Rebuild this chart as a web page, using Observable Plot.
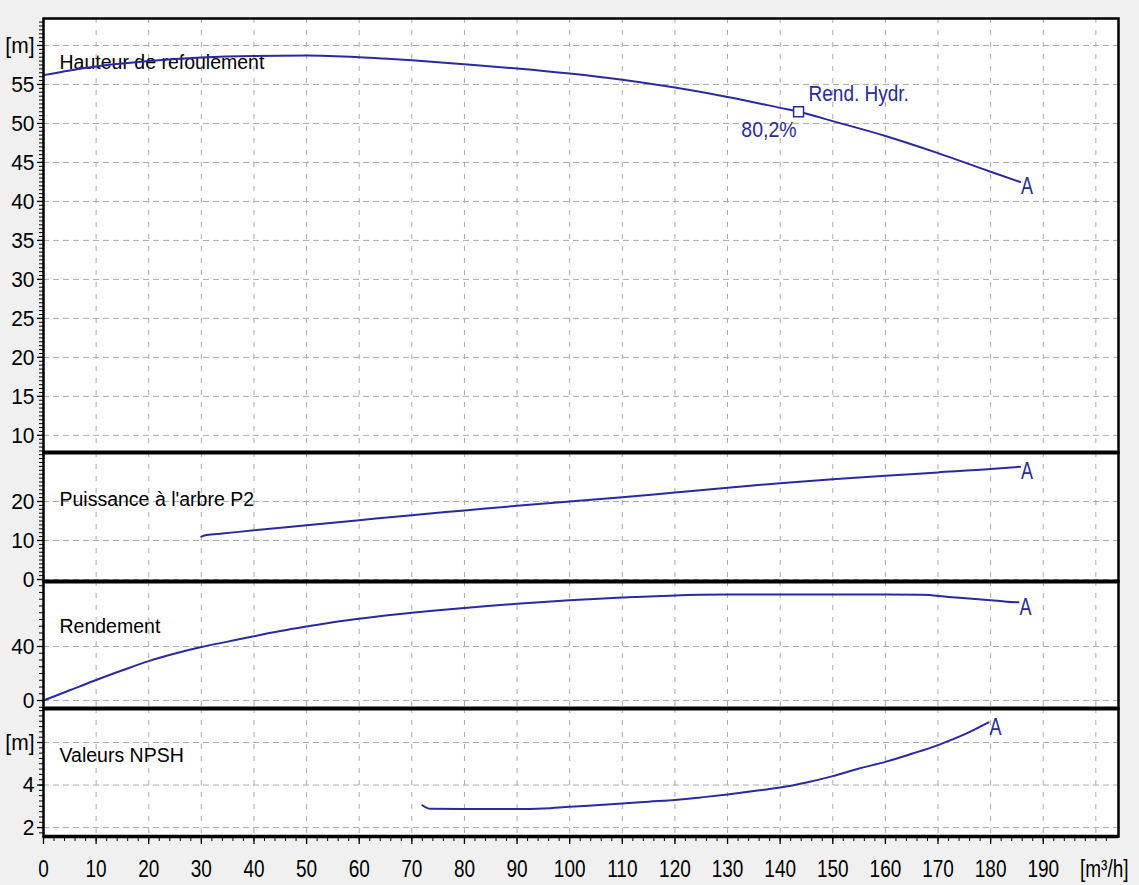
<!DOCTYPE html>
<html><head><meta charset="utf-8">
<script src="https://cdn.jsdelivr.net/npm/d3@7"></script>
<script src="https://cdn.jsdelivr.net/npm/@observablehq/plot@0.6"></script>
<style>
html,body{margin:0;padding:0;background:#f0f0f0;}
#chart{position:relative;width:1139px;height:885px;overflow:hidden;background:#f0f0f0;}
#chart svg{position:absolute;left:0;}
</style></head><body><div id="chart"></div>
<script>
// ---- data ----
const qTicks = [0,10,20,30,40,50,60,70,80,90,100,110,120,130,140,150,160,170,180,190];
const qGrid = [10,20,30,40,50,60,70,80,90,100,110,120,130,140,150,160,170,180,190,200];
const xUnit = "[m³/h]";

const headQ = [0,5,10,20,30,40,50,60,70,80,90,100,110,120,130,140,143.5,150,160,170,180,185.6];
const headH = [56.2,56.8,57.3,58.0,58.45,58.65,58.7,58.5,58.1,57.6,57.05,56.4,55.6,54.6,53.4,52.0,51.5,50.3,48.4,46.2,43.8,42.5];
const headTicks = [10,15,20,25,30,35,40,45,50,55,60];

const powerQ = [30,31,34,40,50,60,70,80,90,100,110,120,130,140,150,160,170,180,185.6];
const powerP = [11.0,11.4,11.8,12.6,13.9,15.2,16.5,17.7,18.9,20.0,21.1,22.3,23.5,24.7,25.7,26.6,27.45,28.3,28.9];
const powerTicks = [0,10,20];

const effQ = [0,5,10,15,20,25,30,35,40,45,50,55,60,65,70,75,80,85,90,95,100,110,120,130,140,150,160,167,172,177,180,183,185.3];
const effE = [0,7.6,15.2,22.4,29.2,34.8,39.6,43.6,47.6,51.4,54.8,58.0,60.6,62.9,64.9,66.8,68.5,70.1,71.6,73.0,74.2,76.2,77.8,78.4,78.5,78.5,78.5,78.3,76.6,75.2,74.3,73.2,72.7];
const effTicks = [0,40];

const npshQ = [72,73.5,80,90,95,100,105,110,115,120,125,130,135,140,145,150,155,160,165,170,175,179.6];
const npshH = [3.05,2.88,2.87,2.87,2.9,2.98,3.05,3.13,3.22,3.3,3.42,3.56,3.72,3.88,4.12,4.42,4.78,5.09,5.47,5.88,6.38,6.95];
const npshTicks = [2,4,6];

const dutyQ = [143.5];
const dutyH = [51.5];
const dutyLabel = "Rend. Hydr.";
const dutyEff = "80,2%";

const panelTitles = ["Hauteur de refoulement", "Puissance à l'arbre P2", "Rendement", "Valeurs NPSH"];
const endMark = "A";

// ---- style ----
const W = 1139, ML = 43, MR = 21;
const AREA_W = W - ML - MR;
const xDomain = [0, 204.3];
const FONT = "'Liberation Sans', Arial, Helvetica, sans-serif";
const BLUE = "#2a2a9e";
const GRID = "#ababab";

const zip = (a, b) => a.map((q, i) => ({q, v: b[i]}));

function stretch(svg, desc, sy) {
  svg.querySelectorAll(`g[aria-description="${desc}"] text`).forEach(t => {
    const tr = t.getAttribute("transform");
    if (tr) t.setAttribute("transform", `${tr} scale(1,${sy})`);
  });
}

function panel(cfg) {
  const {top, mt, areaH, mb, yDomain, yTicks, yMinor, yFmt, data, title, titleDy, extra = [], bottom = false} = cfg;
  const height = mt + areaH + mb;
  const last = data[data.length - 1];
  const marks = [
    Plot.frame({fill: "white"}),
    Plot.ruleY(yTicks, {y: d => d, stroke: GRID, strokeWidth: 1, strokeDasharray: "6,4"}),
    Plot.ruleX(qGrid, {x: d => d, stroke: GRID, strokeWidth: 1, strokeDasharray: "5,7"}),
    Plot.ruleY(yMinor, {y: d => d, insetRight: AREA_W - 4, dx: -4, stroke: "black", strokeWidth: 1}),
    Plot.ruleY(yTicks, {y: d => d, insetRight: AREA_W - 6, dx: -6, stroke: "black", strokeWidth: 1.3}),
    Plot.text(yTicks, {y: d => d, text: yFmt, frameAnchor: "left", dx: -9, textAnchor: "end", lineAnchor: "middle",
      fontSize: 21, fill: "black", ariaDescription: "ylab"}),
    Plot.text([title], {text: d => d, frameAnchor: "top-left", dx: 16, dy: titleDy, textAnchor: "start",
      lineAnchor: "bottom", fontSize: 19.5, fill: "black"}),
    Plot.line(data, {x: "q", y: "v", stroke: BLUE, strokeWidth: 2, curve: "monotone-x"}),
    Plot.text([last], {x: "q", y: "v", text: () => endMark, dx: 7, dy: 5, textAnchor: "middle", lineAnchor: "middle",
      fontSize: 18, fill: BLUE, ariaDescription: "amark"}),
    ...extra,
    Plot.frame({stroke: "black", strokeWidth: 2.5})
  ];
  if (top > 0) marks.push(Plot.ruleY([yDomain[1]], {stroke: "black", strokeWidth: 4}));
  if (bottom) {
    const minorX = d3.range(0, 204, 2);
    marks.push(
      Plot.ruleX(minorX, {x: d => d, insetTop: areaH - 5, dy: 5, stroke: "black", strokeWidth: 1}),
      Plot.ruleX(qTicks, {x: d => d, insetTop: areaH - 8, dy: 8, stroke: "black", strokeWidth: 1.3}),
      Plot.ruleY([yDomain[0]], {stroke: "black", strokeWidth: 3.5}),
      Plot.text(qTicks, {x: d => d, text: d => String(d), frameAnchor: "bottom", dy: 40, lineAnchor: "bottom",
        textAnchor: "middle", fontSize: 19, fill: "black", ariaDescription: "xlab"}),
      Plot.text([xUnit], {text: d => d, frameAnchor: "bottom-right", dx: 10, dy: 40, lineAnchor: "bottom",
        textAnchor: "end", fontSize: 19, fill: "black", ariaDescription: "xlab"})
    );
  }
  const svg = Plot.plot({
    width: W, height,
    marginLeft: ML, marginRight: MR, marginTop: mt, marginBottom: mb,
    x: {domain: xDomain, axis: null},
    y: {domain: yDomain, axis: null},
    style: {background: "transparent", overflow: "visible", fontFamily: FONT},
    marks
  });
  svg.style.top = top + "px";
  stretch(svg, "xlab", 1.3);
  stretch(svg, "ylab", 1.08);
  stretch(svg, "amark", 1.3);
  stretch(svg, "duty", 1.15);
  return svg;
}

const chart = document.getElementById("chart");
const mFmt = v => d => d === v ? "[m]" : String(d);

chart.appendChild(panel({
  top: 0, mt: 18, areaH: 434, mb: 3,
  yDomain: [7.8, 63.46], yTicks: headTicks, yMinor: d3.range(8, 63.5, 0.5), yFmt: mFmt(60),
  data: zip(headQ, headH), title: panelTitles[0], titleDy: 50,
  extra: [
    Plot.dot(zip(dutyQ, dutyH), {x: "q", y: "v", symbol: "square", r: 5.6, stroke: BLUE, fill: "white", strokeWidth: 1.5}),
    Plot.text(zip(dutyQ, dutyH), {x: "q", y: "v", text: () => dutyLabel, dx: 10, dy: -11, textAnchor: "start",
      lineAnchor: "bottom", fontSize: 19, fill: BLUE, ariaDescription: "duty"}),
    Plot.text(zip(dutyQ, dutyH), {x: "q", y: "v", text: () => dutyEff, dx: -2, dy: 25, textAnchor: "end",
      lineAnchor: "bottom", fontSize: 19.5, fill: BLUE, ariaDescription: "duty"})
  ]
}));
chart.appendChild(panel({
  top: 449, mt: 3, areaH: 129, mb: 3,
  yDomain: [-0.51, 32.56], yTicks: powerTicks, yMinor: d3.range(0, 33, 1), yFmt: d => String(d),
  data: zip(powerQ, powerP), title: panelTitles[1], titleDy: 53
}));
chart.appendChild(panel({
  top: 578, mt: 3, areaH: 127, mb: 3,
  yDomain: [-5.9, 88.1], yTicks: effTicks, yMinor: d3.range(-5, 88, 5), yFmt: d => String(d),
  data: zip(effQ, effE), title: panelTitles[2], titleDy: 51
}));
chart.appendChild(panel({
  top: 705, mt: 3, areaH: 128, mb: 49,
  yDomain: [1.58, 7.6], yTicks: npshTicks, yMinor: d3.range(1.75, 7.6, 0.25), yFmt: mFmt(6),
  data: zip(npshQ, npshH), title: panelTitles[3], titleDy: 53, bottom: true
}));
</script></body></html>
